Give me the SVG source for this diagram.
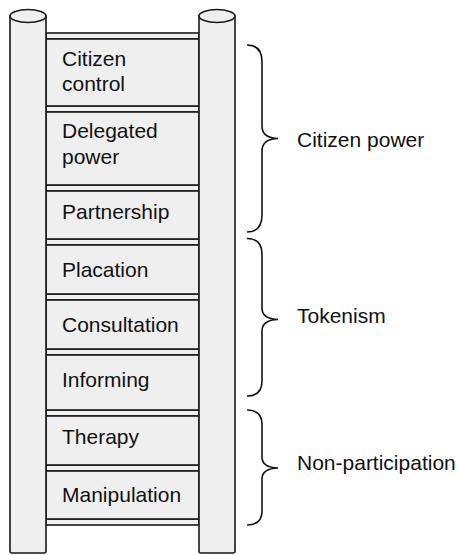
<svg xmlns="http://www.w3.org/2000/svg" width="459" height="555" viewBox="0 0 459 555">
<style>
.post{fill:#efefef;stroke:#1a1a1a;stroke-width:1.6}
.box{fill:#efefef;stroke:#1a1a1a;stroke-width:1.6}
.band{fill:#efefef;stroke:#1a1a1a;stroke-width:1.6}
.lbl{font-family:"Liberation Sans",Arial,Helvetica,sans-serif;font-size:21px;fill:#111}
.brace{fill:none;stroke:#111;stroke-width:1.6}
</style>
<rect width="459" height="555" fill="#fff"/>
<g id="rungs">
<rect class="band" x="46" y="33" width="153" height="6"/>
<rect class="band" x="46" y="106" width="153" height="6"/>
<rect class="band" x="46" y="185" width="153" height="6"/>
<rect class="band" x="46" y="239" width="153" height="6"/>
<rect class="band" x="46" y="294" width="153" height="6"/>
<rect class="band" x="46" y="349" width="153" height="6"/>
<rect class="band" x="46" y="410" width="153" height="6"/>
<rect class="band" x="46" y="465" width="153" height="6"/>
<rect class="band" x="46" y="519" width="153" height="6"/>
</g>
<g id="citizen-control"><rect class="box" x="46" y="39" width="153" height="67"/><text class="lbl" x="62" y="65.5">Citizen</text><text class="lbl" x="62" y="91">control</text></g>
<g id="delegated-power"><rect class="box" x="46" y="112" width="153" height="73"/><text class="lbl" x="62" y="137.5">Delegated</text><text class="lbl" x="62" y="163.5">power</text></g>
<g id="partnership"><rect class="box" x="46" y="191" width="153" height="48"/><text class="lbl" x="62" y="219">Partnership</text></g>
<g id="placation"><rect class="box" x="46" y="245" width="153" height="49"/><text class="lbl" x="62" y="277">Placation</text></g>
<g id="consultation"><rect class="box" x="46" y="300" width="153" height="49"/><text class="lbl" x="62" y="331.5">Consultation</text></g>
<g id="informing"><rect class="box" x="46" y="355" width="153" height="55"/><text class="lbl" x="62" y="386.5">Informing</text></g>
<g id="therapy"><rect class="box" x="46" y="416" width="153" height="49"/><text class="lbl" x="62" y="444">Therapy</text></g>
<g id="manipulation"><rect class="box" x="46" y="471" width="153" height="48"/><text class="lbl" x="62" y="502">Manipulation</text></g>
<g id="left-post">
<path class="post" d="M10,16 L10,551 Q10,553 12,553 L44,553 Q46,553 46,551 L46,16 Z"/>
<ellipse class="post" cx="28" cy="16" rx="18" ry="6.5"/>
</g>
<g id="right-post">
<path class="post" d="M199,16 L199,551 Q199,553 201,553 L233,553 Q235,553 235,551 L235,16 Z"/>
<ellipse class="post" cx="217" cy="16" rx="18" ry="6.5"/>
</g>
<g id="connectors">
<path class="brace" d="M247,45 Q262,45 262,62 L262,126 Q262,138 278,138.5 Q262,139 262,151 L262,215 Q262,232 247,232"/>
<path class="brace" d="M247,238.5 Q262,238.5 262,254 L262,308 Q262,319 278,319.5 Q262,320 262,331 L262,381 Q262,396 247,396"/>
<path class="brace" d="M247,410 Q262,410 262,424 L262,457 Q262,467.5 278,468 Q262,468.5 262,479 L262,511 Q262,525 247,525"/>
</g>
<g id="citizen-power"><text class="lbl" x="297" y="147">Citizen power</text></g>
<g id="tokenism"><text class="lbl" x="297" y="323">Tokenism</text></g>
<g id="non-participation"><text class="lbl" x="297" y="470">Non-participation</text></g>
</svg>
